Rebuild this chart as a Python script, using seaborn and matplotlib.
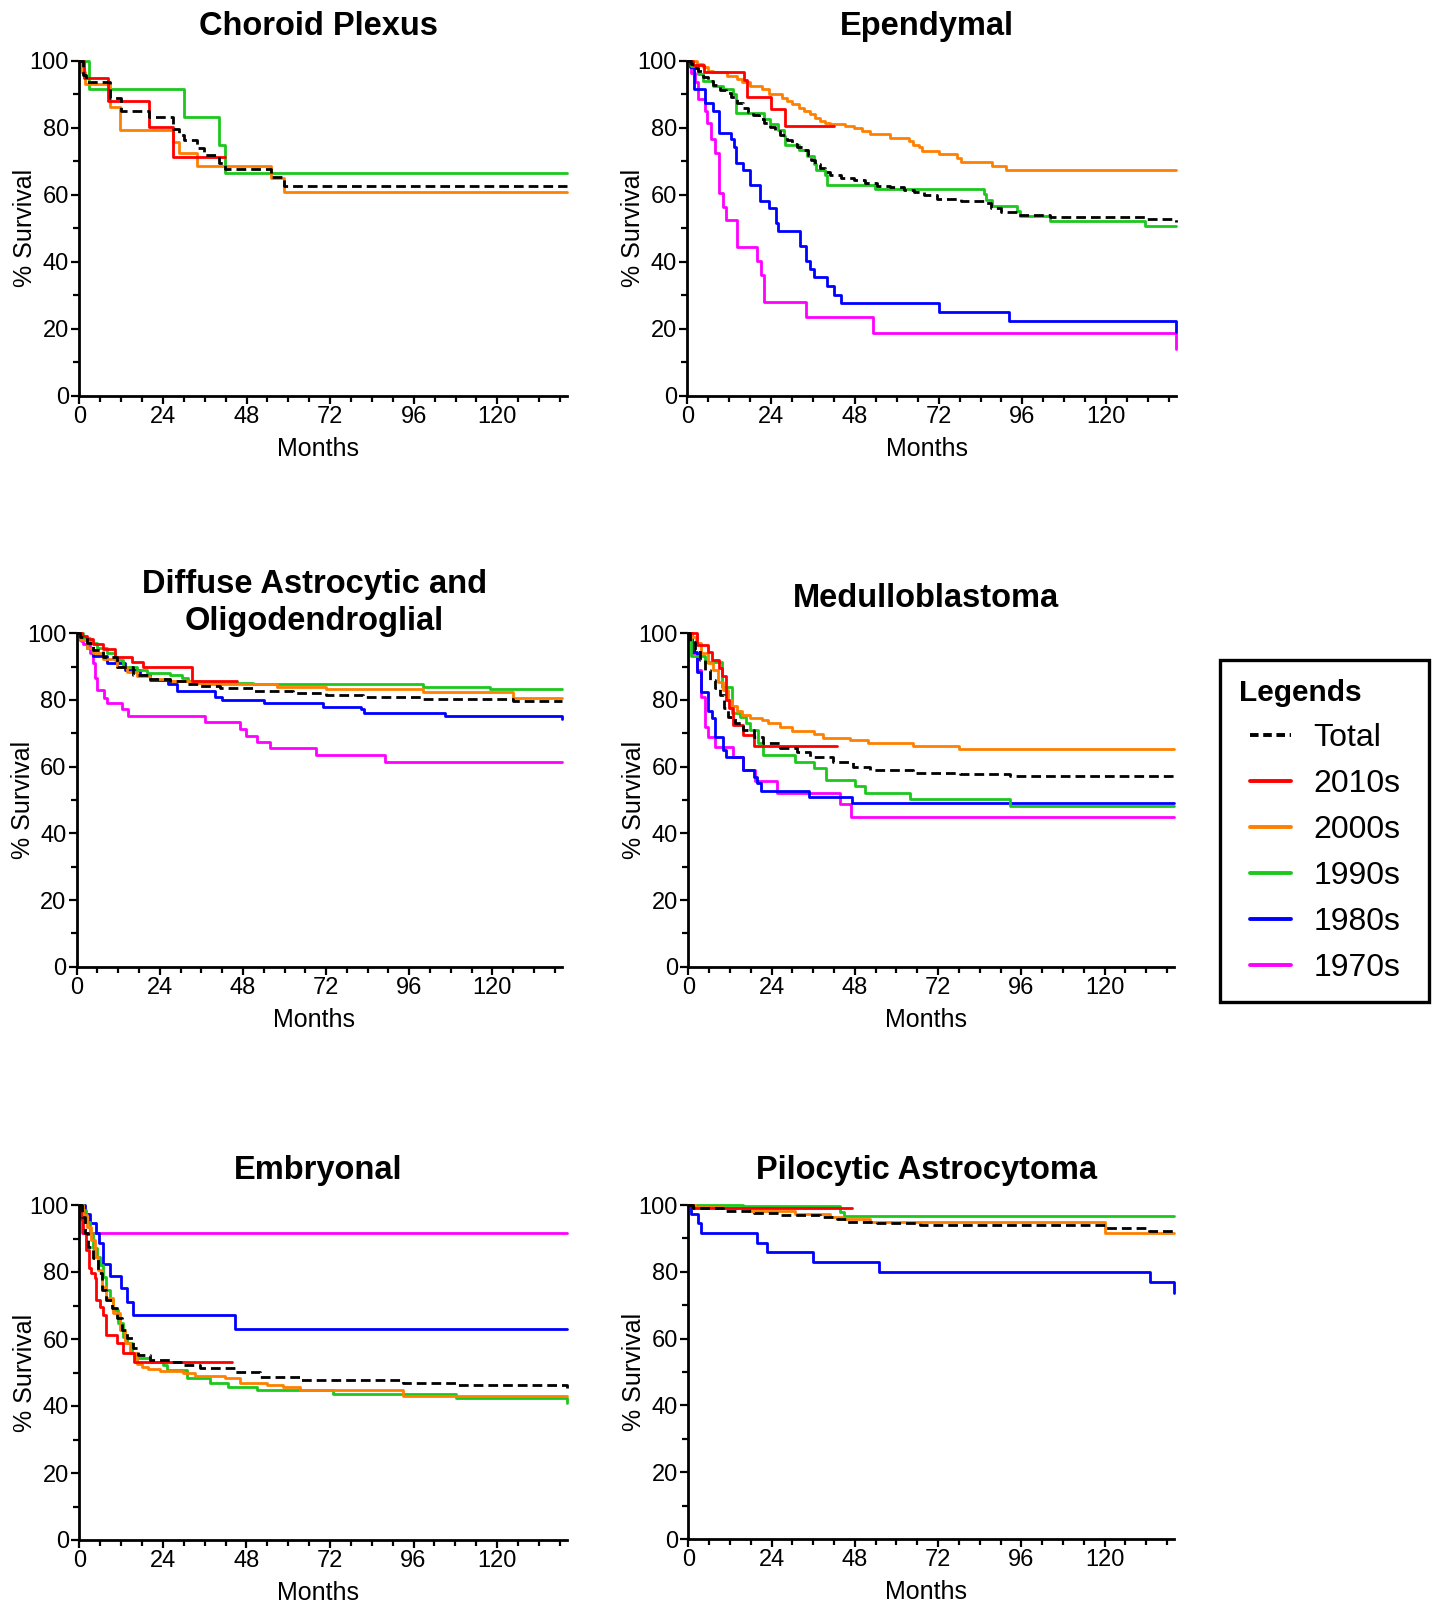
import matplotlib
matplotlib.use("Agg")
import matplotlib.pyplot as plt
from matplotlib.lines import Line2D
from matplotlib.legend_handler import HandlerLine2D
from matplotlib.ticker import MultipleLocator
import pandas as pd
import seaborn as sns

sns.set_style("ticks", {"axes.edgecolor": "black", "text.color": "black",
                        "xtick.color": "black", "ytick.color": "black",
                        "axes.labelcolor": "black"})
plt.rcParams["font.family"] = ["Liberation Sans", "DejaVu Sans"]

# ---- Choroid Plexus ----
chp_total_m = [0, 1.1, 1.9, 8.8, 11.9, 19.9, 27, 28.7, 30, 33.8, 35.8, 40, 41.7, 54.9, 58.7, 140]
chp_total_s = [100, 95.7, 93.7, 88.8, 85.1, 83.3, 79.5, 77.8, 76.3, 73.9, 71.9, 69.6, 67.6, 65.2, 62.6, 62.6]
chp_2010_m = [0, 1.3, 8.1, 19.9, 27, 41.9]
chp_2010_s = [100, 94.7, 88.1, 80.1, 71.4, 71.4]
chp_2000_m = [0, 0.4, 1.6, 8.8, 11.7, 27, 28.7, 33.8, 54.9, 58.7, 140]
chp_2000_s = [100, 96.7, 93.2, 86.3, 79.3, 75.8, 72.4, 68.6, 65.1, 60.9, 60.9]
chp_1990_m = [0, 2.9, 30, 40, 41.7, 140]
chp_1990_s = [100, 91.6, 83.1, 74.9, 66.6, 66.6]

# ---- Ependymal ----
epe_total_m = [0, 1, 2, 3, 4.6, 6, 7.5, 9.4, 11, 12.5, 14.2, 16, 17.5, 18.9, 20.5, 22, 23.7, 25, 26.5,
               28.5, 30, 31.5, 33.3, 34.5, 35.5, 36.5, 38.1, 39.5, 41, 44, 47.7, 51, 54.4, 58, 62, 65,
               67.8, 71.6, 78.3, 85, 86.9, 90, 94.5, 104, 131, 140]
epe_total_s = [100, 99, 97.8, 96.8, 95.2, 94, 92.7, 91.3, 90.3, 89.2, 87.3, 85.8, 84.8, 83.8, 82.5, 81.5,
               80.3, 79, 77.8, 76.3, 75.2, 74.3, 73.4, 72, 70.5, 69.2, 67.9, 66.8, 65.9, 65, 64.4, 63.6,
               62.7, 62.2, 61.4, 60.7, 60, 58.9, 58.2, 57.5, 56, 55, 54, 53.5, 52.7, 52]
epe_2010_m = [0, 1.5, 4.8, 16.3, 17, 23.9, 28.1, 42.1]
epe_2010_s = [100, 98.7, 96.5, 94.2, 89.3, 85.6, 80.5, 80.5]
epe_2000_m = [0, 2.7, 4.6, 6, 7.5, 11.3, 14.2, 15.6, 18, 21.3, 23.3, 27.1, 28.5, 30, 31.9, 33.3, 35.2,
              36.7, 38, 39.5, 41, 45.3, 47.7, 50, 52.4, 58.2, 63.4, 64.7, 66.3, 67.3, 72, 77.3, 78.3,
              87.2, 91.2, 140]
epe_2000_s = [100, 99, 98, 97, 96.5, 95.5, 94.5, 93.5, 92.5, 91.5, 90, 89, 88, 87, 86, 85, 84, 83, 82,
              81.5, 81, 80.5, 79.8, 79, 78, 77, 76, 75, 74.2, 73.2, 72.1, 71.1, 69.8, 68.6, 67.3, 67.3]
epe_1990_m = [0, 1.2, 3.2, 4.6, 7.5, 10.3, 13.2, 14, 22.1, 23.7, 26.1, 27.6, 28, 31.9, 34.3, 36.2, 37,
              39.5, 40, 53.9, 85, 85.7, 87.4, 94.5, 95.3, 104, 131, 140]
epe_1990_s = [100, 98.5, 96, 94, 92.5, 91.5, 90, 84.5, 82.6, 81, 79.3, 77.5, 74.9, 73.4, 71.5, 69.2,
              67.5, 66, 63, 61.6, 60.2, 58.5, 56.8, 55.1, 53.6, 52.2, 50.8, 50.8]
epe_1980_m = [0, 0.8, 1.9, 5, 7.3, 9.2, 12.4, 13.4, 14, 15.9, 18, 20.9, 23.3, 25.5, 26.1, 32.2, 34.1,
              35.2, 36.2, 40, 42.1, 44, 72.1, 92.2, 140]
epe_1980_s = [100, 98.2, 91.5, 87.3, 85, 78.3, 76.5, 74.2, 69.4, 67.4, 62.8, 58.2, 56, 51.7, 49.3,
              44.8, 40.3, 37.8, 35.4, 32.8, 30.1, 27.6, 25.1, 22.4, 19.2]
epe_1970_m = [0, 1, 2.1, 3.1, 5, 5.7, 6.9, 7.9, 9.1, 10.1, 11.1, 14.2, 20.1, 21.1, 22, 34.1, 53.2, 140]
epe_1970_s = [100, 96.4, 93.7, 88.5, 85, 81.3, 76.6, 72.4, 60.4, 56.5, 52.5, 44.3, 40.4, 36.1, 28.1,
              23.7, 18.7, 13.9]

# ---- Diffuse Astrocytic and Oligodendroglial ----
dao_total_m = [0, 1, 2.9, 4.8, 7.7, 11.5, 16.3, 21.2, 26.9, 31.7, 35.6, 41.3, 51, 62.5, 72.1, 82.7, 100, 126, 140]
dao_total_s = [100, 99, 97.2, 95, 92.8, 90, 87.5, 86.2, 85.7, 84.8, 84.2, 83.7, 82.7, 82.2, 81.5, 81, 80.3, 79.7, 79.7]
dao_2010_m = [0, 1.4, 2.9, 4.8, 7.7, 11.1, 15.9, 19, 33.2, 46.2]
dao_2010_s = [100, 99.2, 98.2, 96.8, 95.3, 93, 91.5, 89.8, 85.8, 85.8]
dao_2000_m = [0, 1, 2.9, 4.8, 7.7, 11.5, 14.4, 17.3, 21.2, 26.9, 32.7, 38.5, 57.7, 72.1, 100, 126, 140]
dao_2000_s = [100, 98, 95.5, 94, 92.2, 90, 88.5, 87.2, 86.2, 85.7, 85, 84.7, 84, 83.3, 82.5, 80.7, 80.7]
dao_1990_m = [0, 1.9, 3.8, 5.8, 8.7, 11.1, 13.5, 17.3, 20.2, 26.9, 30.3, 32.2, 35.6, 51, 100, 119.2, 140]
dao_1990_s = [100, 98.5, 97, 95.5, 94, 92, 90, 89, 88.2, 87.5, 86.5, 85.7, 85.2, 84.7, 84, 83.3, 83.3]
dao_1980_m = [0, 1, 2.9, 4.8, 8.7, 14, 18.3, 21.2, 26.4, 29, 39.9, 42, 54, 71.2, 82.2, 83, 106.3, 140]
dao_1980_s = [100, 98, 95.5, 93.2, 91, 89, 87.5, 86, 84.8, 82.8, 80.8, 80, 79, 78, 77.2, 76.2, 75.2, 74.2]
dao_1970_m = [0, 1.2, 1.9, 3.8, 4.6, 5.2, 6, 7.9, 8.8, 13, 14.9, 37, 47.1, 48.8, 52, 55.8, 69, 88.9, 140]
dao_1970_s = [100, 97.8, 96.8, 94, 91, 86.5, 83, 80.5, 79.2, 77.2, 75.3, 73.3, 71.3, 69.3, 67.3, 65.5, 63.5, 61.5, 61.5]

# ---- Medulloblastoma ----
med_total_m = [0, 0.5, 1.9, 3.4, 4.8, 6.3, 7.7, 9.1, 10.3, 11.5, 13.5, 15.9, 18.8, 21.6, 26.4, 31.3,
               35.1, 41.8, 47.6, 52.4, 64.9, 78.4, 92.8, 140]
med_total_s = [100, 97.5, 95, 92, 89, 86, 83.5, 81.5, 77.5, 75, 73, 71, 69, 67, 65.5, 64.5, 63, 61.5,
               60, 59, 58, 57.7, 57.2, 57.2]
med_2010_m = [0, 2.6, 5.8, 6.7, 8.9, 9.6, 10.9, 11.8, 12.8, 15.9, 18.8, 42.8]
med_2010_s = [100, 96.5, 94.5, 92, 89.5, 87.2, 80, 77.5, 72.5, 69.5, 66.2, 66.2]
med_2000_m = [0, 1, 2.2, 3.8, 5.8, 7.2, 8.7, 10.1, 11.3, 12.5, 13.9, 15.4, 17.8, 21.2, 23.1, 26.4,
              29.8, 36.1, 38.9, 46.6, 51.9, 64.9, 77.9, 140]
med_2000_s = [100, 99, 97, 94, 91, 89, 85.5, 83, 80, 78.2, 76.8, 75.5, 74.7, 74, 73, 72, 70.8, 69.8,
              68.7, 68, 67.2, 66.2, 65.2, 65.2]
med_1990_m = [0, 0.7, 4.8, 9.6, 12.5, 14.9, 16.6, 17.8, 20, 21.6, 30.8, 36.1, 39.7, 48.1, 51, 63.9, 92.8, 140]
med_1990_s = [100, 93.2, 91.5, 84, 76, 75, 73, 71, 67.2, 63.5, 61.5, 59.7, 56, 54.2, 52.2, 50.2, 48.2, 48.2]
med_1980_m = [0, 1, 2.6, 3.8, 5.8, 6.7, 7.7, 9.9, 10.9, 15.7, 18.8, 19.9, 20.9, 34.9, 47.1, 140]
med_1980_s = [100, 94.5, 88.5, 82.5, 76.8, 74.5, 69, 65, 63, 59, 57, 55, 52.8, 51, 49, 49]
med_1970_m = [0, 1.2, 2.6, 3.7, 4.8, 5.8, 7.7, 13, 15.7, 19.2, 25.7, 43.8, 46.8, 140]
med_1970_s = [100, 94, 89, 80.8, 72, 69, 65.8, 63, 59, 55.7, 52.2, 48.7, 45, 45]

# ---- Embryonal ----
emb_total_m = [0, 0.7, 1.6, 2.6, 4, 5.5, 6.4, 7.8, 9.3, 10.7, 12.2, 13.6, 15.5, 16.9, 20.3, 26, 29.9,
               34.6, 44.7, 51.9, 63.3, 93, 108.3, 140]
emb_total_s = [100, 96.5, 91.5, 87.6, 84.1, 79.6, 74.6, 71.6, 69.2, 66.2, 62.7, 60.2, 57.2, 55.2, 53.7,
               53.2, 52.2, 51.2, 50.2, 48.8, 47.8, 47, 46.3, 45.3]
emb_2010_m = [0, 0.4, 1, 1.9, 2.9, 3.5, 4.5, 4.8, 5.9, 6.9, 7.7, 10.7, 12.6, 15.7, 44]
emb_2010_s = [100, 95.7, 91.5, 86.6, 81.1, 79.6, 78.1, 71.6, 69.7, 67.2, 61.2, 58.9, 55.9, 53.2, 53.2]
emb_2000_m = [0, 1.1, 2.1, 3.5, 4.5, 5.5, 6.4, 7.8, 9.8, 11.7, 13.1, 14.5, 16.5, 17.9, 19.8, 23.2,
              29.9, 33.2, 41.8, 46.1, 53.8, 58.6, 63.3, 93, 140]
emb_2000_s = [100, 97, 93.5, 89.6, 84.6, 80.6, 75.6, 72.1, 67.7, 62.7, 58.7, 55.7, 52.5, 51.7, 50.9,
              50.4, 49.8, 49, 48.3, 47, 46.3, 45.6, 44.8, 43, 43]
emb_1990_m = [0, 1.1, 1.9, 3.1, 4, 5, 5.9, 6.9, 7.8, 8.8, 9.8, 11.2, 12.6, 13.6, 15, 16, 20.3, 24.1,
              25.1, 30.8, 37.5, 42.8, 50.9, 72.9, 108.3, 140]
emb_1990_s = [100, 98.5, 95, 91.5, 87.1, 84.6, 82.1, 78.6, 74.6, 71.6, 68.7, 64.7, 60.7, 58.7, 55.7,
              54.2, 53.2, 52.2, 50.7, 48.3, 47, 45.8, 44.8, 43.6, 42.3, 40.8]
emb_1980_m = [0, 1.6, 3.1, 4.8, 5.7, 6.7, 8.8, 11.9, 13.8, 15.5, 44.7, 140]
emb_1980_s = [100, 97.3, 94.5, 91.5, 88.6, 82.4, 78.8, 75.1, 71.1, 67.2, 63.1, 63.1]
emb_1970_m = [0, 0.7, 140]
emb_1970_s = [100, 91.7, 91.7]

# ---- Pilocytic Astrocytoma ----
pil_total_m = [0, 1.4, 10.1, 18.8, 26.4, 38, 42.8, 45.7, 54.3, 66.8, 120.2, 132.7, 140]
pil_total_s = [100, 99, 98.3, 97.7, 97, 96.3, 95.7, 95, 94.5, 94, 93, 92.2, 92.2]
pil_2010_m = [0, 1.4, 47.1]
pil_2010_s = [100, 99, 99]
pil_2000_m = [0, 1.9, 10.1, 17.8, 30.8, 40.9, 44.7, 52.4, 120.2, 140]
pil_2000_s = [100, 99.5, 99, 98.3, 97.3, 96.5, 95.7, 95, 91.7, 91.7]
pil_1990_m = [0, 15.9, 43.8, 44.9, 140]
pil_1990_s = [100, 99.7, 98, 96.7, 96.7]
pil_1980_m = [0, 0.7, 2.9, 3.7, 19.9, 22.8, 35.9, 55.1, 133.2, 140]
pil_1980_s = [100, 97.3, 94.5, 91.5, 88.7, 85.8, 82.9, 80, 77, 73.7]

series_order = ["1970s", "1980s", "1990s", "2000s", "2010s", "Total"]
legend_order = ["Total", "2010s", "2000s", "1990s", "1980s", "1970s"]
colors = {"Total": "black", "2010s": "#FF0000", "2000s": "#FF8000",
          "1990s": "#1DC81D", "1980s": "#0000FF", "1970s": "#FF00FF"}

panels = [
    ("Choroid Plexus", (79.3, 60.7, 567, 396),
     {"Total": (chp_total_m, chp_total_s), "2010s": (chp_2010_m, chp_2010_s),
      "2000s": (chp_2000_m, chp_2000_s), "1990s": (chp_1990_m, chp_1990_s)}),
    ("Ependymal", (687.3, 60.7, 1176, 396),
     {"Total": (epe_total_m, epe_total_s), "2010s": (epe_2010_m, epe_2010_s),
      "2000s": (epe_2000_m, epe_2000_s), "1990s": (epe_1990_m, epe_1990_s),
      "1980s": (epe_1980_m, epe_1980_s), "1970s": (epe_1970_m, epe_1970_s)}),
    ("Diffuse Astrocytic and\nOligodendroglial", (76.7, 633.3, 561.7, 966.7),
     {"Total": (dao_total_m, dao_total_s), "2010s": (dao_2010_m, dao_2010_s),
      "2000s": (dao_2000_m, dao_2000_s), "1990s": (dao_1990_m, dao_1990_s),
      "1980s": (dao_1980_m, dao_1980_s), "1970s": (dao_1970_m, dao_1970_s)}),
    ("Medulloblastoma", (688.3, 633.3, 1174, 966.7),
     {"Total": (med_total_m, med_total_s), "2010s": (med_2010_m, med_2010_s),
      "2000s": (med_2000_m, med_2000_s), "1990s": (med_1990_m, med_1990_s),
      "1980s": (med_1980_m, med_1980_s), "1970s": (med_1970_m, med_1970_s)}),
    ("Embryonal", (79.3, 1205, 566.7, 1540),
     {"Total": (emb_total_m, emb_total_s), "2010s": (emb_2010_m, emb_2010_s),
      "2000s": (emb_2000_m, emb_2000_s), "1990s": (emb_1990_m, emb_1990_s),
      "1980s": (emb_1980_m, emb_1980_s), "1970s": (emb_1970_m, emb_1970_s)}),
    ("Pilocytic Astrocytoma", (688.3, 1205, 1174, 1539),
     {"Total": (pil_total_m, pil_total_s), "2010s": (pil_2010_m, pil_2010_s),
      "2000s": (pil_2000_m, pil_2000_s), "1990s": (pil_1990_m, pil_1990_s),
      "1980s": (pil_1980_m, pil_1980_s)}),
]

W, H = 1434, 1604
fig = plt.figure(figsize=(W / 100, H / 100), dpi=100)
dash = (0, (3.5, 1.8))

for title, (x0, y0, x1, y1), curves in panels:
    ax = fig.add_axes([x0 / W, 1 - y1 / H, (x1 - x0) / W, (y1 - y0) / H])
    for name in series_order:
        if name not in curves:
            continue
        months, surv = curves[name]
        df = pd.DataFrame({"Months": months, "Survival": surv})
        sns.lineplot(data=df, x="Months", y="Survival", ax=ax, color=colors[name],
                     lw=2.0, drawstyle="steps-post", estimator=None, sort=False,
                     clip_on=False, linestyle=dash if name == "Total" else "-")
    ax.set_xlim(0, 140)
    ax.set_ylim(0, 100)
    ax.xaxis.set_major_locator(MultipleLocator(24))
    ax.xaxis.set_minor_locator(MultipleLocator(6))
    ax.yaxis.set_major_locator(MultipleLocator(20))
    ax.yaxis.set_minor_locator(MultipleLocator(10))
    ax.set_xticks([0, 24, 48, 72, 96, 120])
    ax.tick_params(which="major", length=6, width=1.6, labelsize=17, pad=1.5)
    ax.tick_params(which="minor", length=4, width=1.6)
    sns.despine(ax=ax)
    for sp in ("left", "bottom"):
        ax.spines[sp].set_linewidth(2.0)
    w_px, h_px = x1 - x0, y1 - y0
    ax.set_xlabel("Months", fontsize=18)
    ax.set_ylabel("% Survival", fontsize=18)
    ax.xaxis.set_label_coords(0.49, -41 / h_px)
    ax.yaxis.set_label_coords(-42 / w_px, 0.5)
    two_line = "\n" in title
    ax.text(0.49, 1 + (3 if two_line else 26) / h_px, title, transform=ax.transAxes,
            ha="center", va="baseline", fontsize=23.5, fontweight="bold",
            linespacing=1.25)

handles = []
for name in legend_order:
    if name == "Total":
        handles.append(Line2D([], [], color="black", lw=2.8, linestyle=(0, (2.2, 1.2))))
    else:
        handles.append(Line2D([], [], color=colors[name], lw=2.8))
leg = fig.legend(handles, legend_order, loc="upper left",
                 bbox_to_anchor=(1220 / W, 1 - 994 / H, 209 / W, 334 / H), mode="expand",
                 borderaxespad=0,
                 title="Legends", alignment="left", fontsize=23,
                 title_fontproperties={"weight": "bold", "size": 21.5},
                 frameon=True, fancybox=False, edgecolor="black", framealpha=1,
                 handlelength=1.63, handletextpad=0.7, labelspacing=0.5,
                 borderpad=0.6, handler_map={Line2D: HandlerLine2D(xpad=0.35)})
leg.get_frame().set_linewidth(2.4)

fig.savefig("out.png", dpi=100)
